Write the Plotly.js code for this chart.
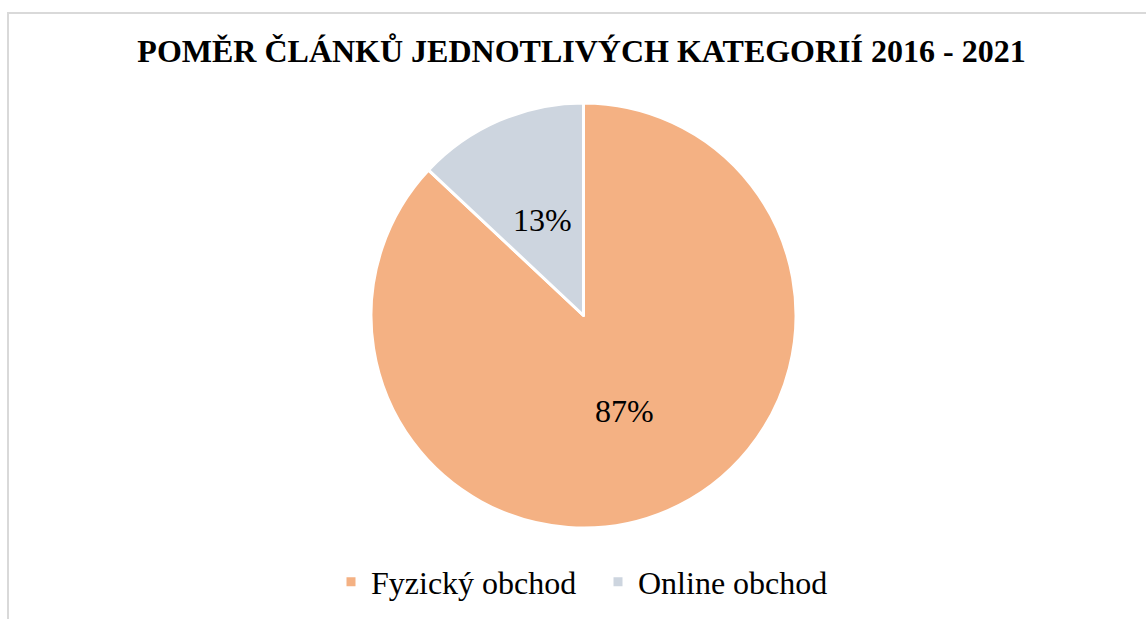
<!DOCTYPE html>
<html>
<head>
<meta charset="utf-8">
<script src="https://cdn.plot.ly/plotly-3.0.1.min.js"></script>
<style>
html,body{margin:0;padding:0;background:#fff;overflow:hidden;}
#chart{width:1146px;height:619px;}
</style>
</head>
<body>
<div id="chart"></div>
<script>
const categories = ["Fyzický obchod", "Online obchod"];
const values = [87, 13];
const colors = ["#F4B183", "#CDD5DF"];
const chartTitle = "POMĚR ČLÁNKŮ JEDNOTLIVÝCH KATEGORIÍ 2016 - 2021";

const W = 1146, H = 619;
const font = "'Liberation Serif', 'Times New Roman', serif";

// pie geometry (pixels)
const cx = 583.5, cy = 315.5, R = 212.5;
const dom = { x: [(cx - R) / W, (cx + R) / W], y: [1 - (cy + R) / H, 1 - (cy - R) / H] };

const trace = {
  type: "pie",
  labels: categories,
  values: values,
  sort: false,
  direction: "clockwise",
  rotation: 0,
  marker: { colors: colors, line: { color: "#ffffff", width: 3 } },
  textinfo: "none",
  hoverinfo: "label+percent",
  domain: dom
};

// data labels at mid-angle of each slice, ~half radius (computed from values)
const total = values.reduce((a, b) => a + b, 0);
const annotations = [];
let cum = 0;
values.forEach((v, i) => {
  const mid = (cum + v / 2) / total * 2 * Math.PI;
  cum += v;
  const px = cx + 0.49 * R * Math.sin(mid);
  const py = cy - 0.49 * R * Math.cos(mid);
  annotations.push({
    xref: "paper", yref: "paper",
    x: px / W, y: 1 - py / H,
    xanchor: "center", yanchor: "middle",
    showarrow: false,
    text: Math.round(v / total * 100) + "%",
    font: { family: font, size: 32, color: "#000000" }
  });
});

const layout = {
  width: W,
  height: H,
  margin: { l: 0, r: 0, t: 0, b: 0 },
  paper_bgcolor: "#ffffff",
  plot_bgcolor: "#ffffff",
  title: {
    text: "<b>" + chartTitle + "</b>",
    font: { family: font, size: 32, color: "#000000" },
    x: 581.5 / W, xanchor: "center", xref: "paper",
    y: 1 - 51 / H, yanchor: "middle", yref: "container"
  },
  showlegend: true,
  legend: {
    orientation: "h",
    x: 598 / W, xanchor: "center",
    y: 1 - 582 / H, yanchor: "middle",
    font: { family: font, size: 32, color: "#000000" },
    traceorder: "normal",
    itemwidth: 30,
    entrywidth: 222,
    entrywidthmode: "pixels"
  },
  annotations: annotations,
  shapes: [{
    type: "rect", xref: "paper", yref: "paper",
    x0: 8 / W, x1: 1.05, y0: -0.05, y1: 1 - 13 / H,
    line: { color: "#d9d9d9", width: 2 }, fillcolor: "rgba(0,0,0,0)"
  }]
};

Plotly.newPlot("chart", [trace], layout, { displayModeBar: false, staticPlot: true });
</script>
</body>
</html>
